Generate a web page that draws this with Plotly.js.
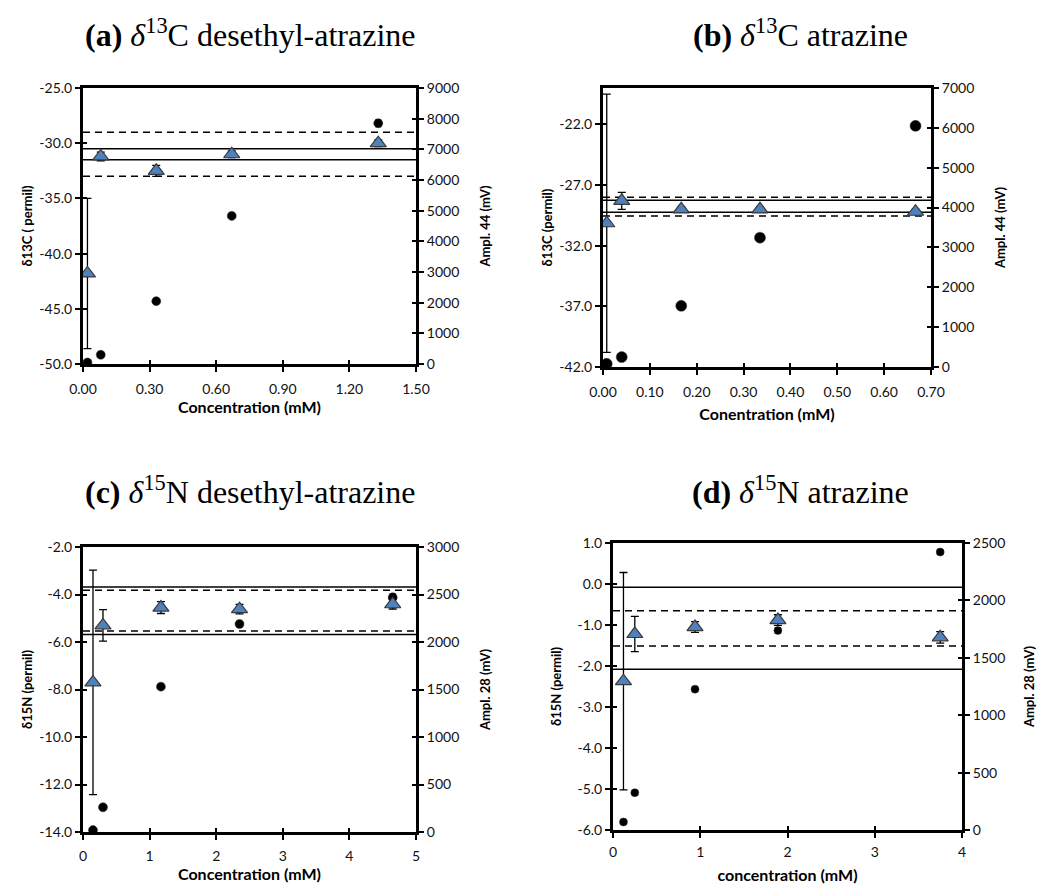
<!DOCTYPE html>
<html>
<head>
<meta charset="utf-8">
<script src="https://cdn.plot.ly/plotly-3.0.1.min.js"></script>
<style>html,body{margin:0;padding:0;background:#fff;}#chart{width:1037px;height:884px;}</style>
</head>
<body>
<div id="chart"></div>
<script>
// ---------- data ----------
// (a) δ13C desethyl-atrazine
const a_conc = [0.02, 0.08, 0.33, 0.67, 1.33];
const a_delta = [-41.8, -31.2, -32.5, -31.0, -30.0];
const a_delta_err = [6.8, 0.4, 0.5, 0.3, 0.3];
const a_amp = [50, 300, 2050, 4830, 7850];
const a_amp_err = [20, 40, 60, 80, 110];
const a_solid = [-30.5, -31.5];
const a_dashed = [-29.0, -33.0];

// (b) δ13C atrazine
const b_conc = [0.008, 0.04, 0.167, 0.335, 0.667];
const b_delta = [-30.15, -28.3, -29.0, -29.0, -29.2];
const b_delta_err = [10.65, 0.7, 0.2, 0.2, 0.2];
const b_amp = [80, 250, 1535, 3245, 6050];
const b_amp_err = [10, 15, 20, 30, 40];
const b_solid = [-28.25, -29.25];
const b_dashed = [-28.0, -29.55];

// (c) δ15N desethyl-atrazine
const c_conc = [0.15, 0.30, 1.17, 2.35, 4.65];
const c_delta = [-7.7, -5.3, -4.55, -4.62, -4.41];
const c_delta_err = [4.73, 0.66, 0.25, 0.2, 0.2];
const c_amp = [20, 260, 1530, 2190, 2470];
const c_amp_err = [10, 15, 20, 25, 40];
const c_solid = [-3.68, -5.68];
const c_dashed = [-3.82, -5.54];

// (d) δ15N atrazine
const d_conc = [0.12, 0.25, 0.94, 1.89, 3.75];
const d_delta = [-2.37, -1.22, -1.05, -0.88, -1.30];
const d_delta_err = [2.65, 0.43, 0.13, 0.13, 0.14];
const d_amp = [70, 325, 1227, 1738, 2421];
const d_amp_err = [10, 15, 15, 25, 20];
const d_solid = [-0.08, -2.08];
const d_dashed = [-0.65, -1.51];

// titles
const titles = [
  '<b>(a)</b> <i>δ</i><sup>13</sup>C desethyl-atrazine',
  '<b>(b)</b> <i>δ</i><sup>13</sup>C atrazine',
  '<b>(c)</b> <i>δ</i><sup>15</sup>N desethyl-atrazine',
  '<b>(d)</b> <i>δ</i><sup>15</sup>N atrazine'
];
const xTitles = ['Concentration (mM)', 'Conentration (mM)', 'Concentration (mM)', 'concentration (mM)'];
const yLeftTitles = ['δ13C ( permil)', 'δ13C (permil)', 'δ15N (permil)', 'δ15N (permil)'];
const yRightTitles = ['Ampl. 44 (mV)', 'Ampl. 44 (mV)', 'Ampl. 28 (mV)', 'Ampl. 28 (mV)'];

// ---------- layout config ----------
const W = 1037, H = 884;
const FONT = 'Lato, "Open Sans", sans-serif';
const SERIF = '"Liberation Serif", "DejaVu Serif", serif';

const panels = [
  {conc:a_conc, delta:a_delta, dErr:a_delta_err, amp:a_amp, aErr:a_amp_err, solid:a_solid, dashed:a_dashed,
   px:[83,416], py:[88,364], xr:[0,1.5], xd:0.3, xdec:2, yr:[-50,-25], y0:-50, yd:5, ar:[0,9000], ad:1000,
   circ:9, xs:1, tls:5, ls:4, rs:23, tx:250, ty:33},
  {conc:b_conc, delta:b_delta, dErr:b_delta_err, amp:b_amp, aErr:b_amp_err, solid:b_solid, dashed:b_dashed,
   px:[603,931], py:[88,367], xr:[0,0.7], xd:0.1, xdec:2, yr:[-42,-19], y0:-42, yd:5, ar:[0,7000], ad:1000,
   circ:11, xs:11, tls:5, ls:4, rs:23, tx:800, ty:33},
  {conc:c_conc, delta:c_delta, dErr:c_delta_err, amp:c_amp, aErr:c_amp_err, solid:c_solid, dashed:c_dashed,
   px:[83,416], py:[547,832], xr:[0,5], xd:1, xdec:0, yr:[-14,-2], y0:-14, yd:2, ar:[0,3000], ad:500,
   circ:9, xs:0, tls:4, ls:4, rs:23, tx:250, ty:490},
  {conc:d_conc, delta:d_delta, dErr:d_delta_err, amp:d_amp, aErr:d_amp_err, solid:d_solid, dashed:d_dashed,
   px:[613,962], py:[543,830], xr:[0,4], xd:1, xdec:0, yr:[-6,1], y0:-6, yd:1, ar:[0,2500], ad:500,
   circ:8, xs:12, tls:2, ls:13, rs:23, tx:800, ty:490}
];

// tick helper: values from start/step over range, labels with plain hyphen-minus
function ticks(start, end, step, dec) {
  const vals = [], txt = [];
  const n = Math.round((end - start) / step);
  for (let k = 0; k <= n; k++) {
    const v = +(start + k * step).toFixed(6);
    if (v > end + 1e-9) break;
    vals.push(v);
    txt.push(v.toFixed(dec));
  }
  return {vals, txt};
}

const data = [];
const layout = {
  width: W, height: H,
  margin: {l:0, r:0, t:0, b:0},
  paper_bgcolor: '#ffffff',
  plot_bgcolor: 'rgba(0,0,0,0)',
  showlegend: false,
  font: {family: FONT, size: 14, color: '#000'},
  shapes: [],
  annotations: []
};

const tickFont = {family: FONT, size: 14, color: '#111'};
const yTitleFont = {family: FONT, size: 13, color: '#000'};
const xTitleFont = {family: FONT, size: 16, color: '#000'};

let xc = 0, yc = 0;
const nx = () => { xc++; return xc === 1 ? 'x' : 'x' + xc; };
const ny = () => { yc++; return yc === 1 ? 'y' : 'y' + yc; };
const key = n => n[0] + 'axis' + (n.length > 1 ? n.slice(1) : '');

panels.forEach((p, i) => {
  const xName = nx(), ampName = ny(), delName = ny();
  const xIn = nx(), ampIn = ny(), delIn = ny();

  const xdom = [p.px[0] / W, p.px[1] / W];
  const ydom = [1 - p.py[1] / H, 1 - p.py[0] / H];

  const xt = ticks(p.xr[0], p.xr[1], p.xd, p.xdec);
  const dt = ticks(p.y0, p.yr[1], p.yd, 1);
  const at = ticks(p.ar[0], p.ar[1], p.ad, 0);

  const common = {showgrid: false, zeroline: false, tickcolor: '#000', tickwidth: 2};

  layout[key(xName)] = Object.assign({}, common, {
    domain: xdom, anchor: ampName, range: p.xr, tickmode: 'array', tickvals: xt.vals, ticktext: xt.txt,
    showline: true, linewidth: 3, linecolor: '#000', mirror: true,
    ticks: 'outside', ticklen: 5, tickfont: tickFont, ticklabelstandoff: p.tls,
    title: {text: '<b>' + xTitles[i] + '</b>', font: xTitleFont, standoff: p.xs}
  });
  layout[key(ampName)] = Object.assign({}, common, {
    domain: ydom, anchor: xName, side: 'right', range: p.ar, tickmode: 'array', tickvals: at.vals, ticktext: at.txt,
    showline: true, linewidth: 3, linecolor: '#000',
    ticks: 'outside', ticklen: 5, tickfont: tickFont,
    title: {text: '<b>' + yRightTitles[i] + '</b>', font: yTitleFont, standoff: p.rs}
  });
  layout[key(delName)] = Object.assign({}, common, {
    overlaying: ampName, anchor: xName, side: 'left', range: p.yr, tickmode: 'array', tickvals: dt.vals, ticktext: dt.txt,
    showline: true, linewidth: 3, linecolor: '#000',
    ticks: 'outside', ticklen: 5, tickfont: tickFont,
    title: {text: '<b>' + yLeftTitles[i] + '</b>', font: yTitleFont, standoff: p.ls}
  });
  // inner tick halves (ticks cross the axis lines as in the original)
  layout[key(xIn)] = Object.assign({}, common, {
    overlaying: xName, anchor: ampName, side: 'bottom', range: p.xr, tickmode: 'array', tickvals: xt.vals,
    showticklabels: false, showline: false, ticks: 'inside', ticklen: 4
  });
  layout[key(ampIn)] = Object.assign({}, common, {
    overlaying: ampName, anchor: xName, side: 'right', range: p.ar, tickmode: 'array', tickvals: at.vals,
    showticklabels: false, showline: false, ticks: 'inside', ticklen: 4
  });
  layout[key(delIn)] = Object.assign({}, common, {
    overlaying: ampName, anchor: xName, side: 'left', range: p.yr, tickmode: 'array', tickvals: dt.vals,
    showticklabels: false, showline: false, ticks: 'inside', ticklen: 4
  });
  // invisible carriers so the tick-only axes are drawn
  data.push({type: 'scatter', mode: 'markers', x: [p.xr[0]], y: [p.ar[0]], xaxis: xIn, yaxis: ampIn,
             marker: {opacity: 0}, hoverinfo: 'skip'});
  data.push({type: 'scatter', mode: 'markers', x: [p.xr[0]], y: [p.yr[0]], xaxis: xIn, yaxis: delIn,
             marker: {opacity: 0}, hoverinfo: 'skip'});

  // amplitude circles (right axis)
  data.push({
    type: 'scatter', mode: 'markers', x: p.conc, y: p.amp, xaxis: xName, yaxis: ampName,
    marker: {symbol: 'circle', size: p.circ, color: '#000', line: {color: '#333', width: 0.5}},
    error_y: {type: 'data', array: p.aErr, visible: true, color: '#000', thickness: 1.2, width: 3},
    hoverinfo: 'x+y'
  });
  // delta triangles (left axis)
  data.push({
    type: 'scatter', mode: 'markers', x: p.conc, y: p.delta, xaxis: xName, yaxis: delName,
    marker: {symbol: 'triangle-up', size: 14, color: '#4F81BD', line: {color: '#3a3a3a', width: 1.2}},
    error_y: {type: 'data', array: p.dErr, visible: true, color: '#000', thickness: 1.3, width: 4},
    hoverinfo: 'x+y'
  });

  // reference lines
  p.solid.forEach(v => layout.shapes.push({
    type: 'line', xref: xName + ' domain', yref: delName, x0: 0, x1: 1, y0: v, y1: v,
    line: {color: '#000', width: 1.5}, layer: 'below'
  }));
  p.dashed.forEach(v => layout.shapes.push({
    type: 'line', xref: xName + ' domain', yref: delName, x0: 0, x1: 1, y0: v, y1: v,
    line: {color: '#000', width: 1.5, dash: '7px,5px'}, layer: 'below'
  }));

  // panel title
  layout.annotations.push({
    text: titles[i], xref: 'paper', yref: 'paper', x: p.tx / W, y: 1 - p.ty / H,
    xanchor: 'center', yanchor: 'middle', showarrow: false,
    font: {family: SERIF, size: 32, color: '#000', weight: 'normal'}
  });
});

Plotly.newPlot('chart', data, layout, {displayModeBar: false, staticPlot: true});
</script>
</body>
</html>
